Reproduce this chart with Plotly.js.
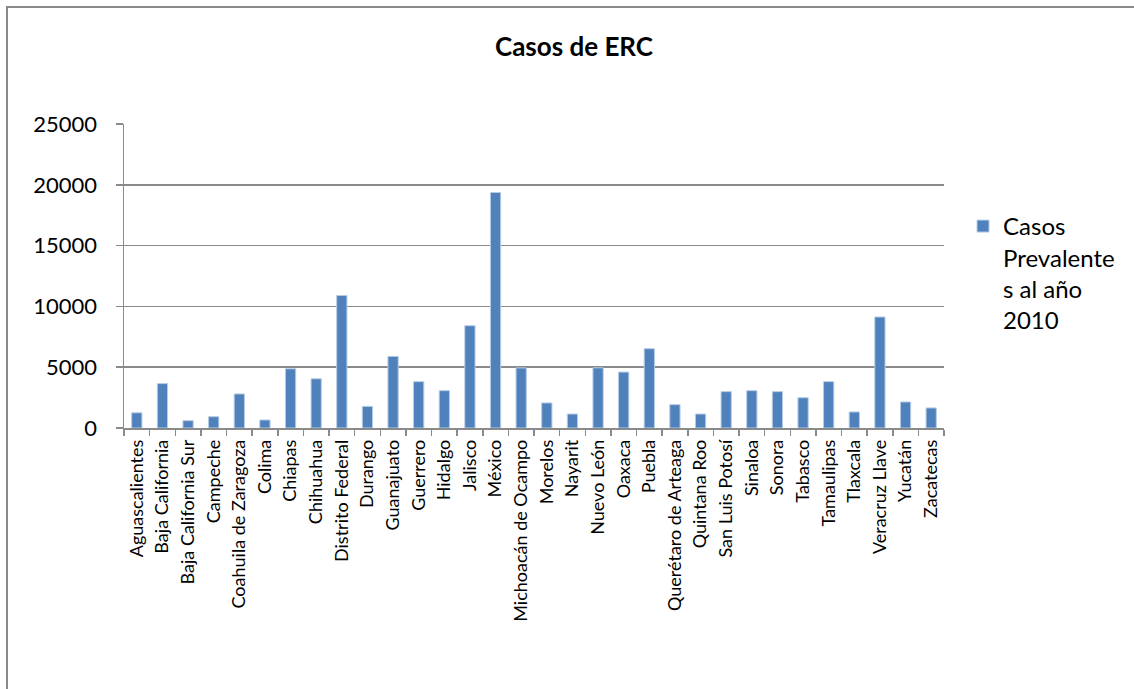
<!DOCTYPE html>
<html>
<head>
<meta charset="utf-8">
<script src="https://cdn.plot.ly/plotly-3.0.1.min.js"></script>
<style>
  html, body { margin: 0; padding: 0; overflow: hidden; background: #fff; }
  #chart { position: absolute; left: 0; top: 0; width: 1134px; height: 689px; }
  #frame { position: absolute; left: 6px; top: 6px; width: 1300px; height: 900px;
           border-top: 2px solid #8a8a8a; border-left: 2px solid #8a8a8a; pointer-events: none; }
</style>
</head>
<body>
<div id="chart"></div>
<div id="frame"></div>
<script>
const estados = [
  "Aguascalientes", "Baja California", "Baja California Sur", "Campeche",
  "Coahuila de Zaragoza", "Colima", "Chiapas", "Chihuahua", "Distrito Federal",
  "Durango", "Guanajuato", "Guerrero", "Hidalgo", "Jalisco", "México",
  "Michoacán de Ocampo", "Morelos", "Nayarit", "Nuevo León", "Oaxaca", "Puebla",
  "Querétaro de Arteaga", "Quintana Roo", "San Luis Potosí", "Sinaloa", "Sonora",
  "Tabasco", "Tamaulipas", "Tlaxcala", "Veracruz Llave", "Yucatán", "Zacatecas"
];
const casosPrevalentes2010 = [
  1250, 3650, 600, 930, 2800, 660, 4870, 4050, 10900,
  1780, 5890, 3810, 3070, 8410, 19370,
  4940, 2060, 1150, 4950, 4600, 6520,
  1920, 1150, 2990, 3070, 2990,
  2490, 3810, 1320, 9130, 2140, 1650
];
const serieNombre = "Casos<br>Prevalente<br>s al año<br>2010";
const tituloGrafico = "Casos de ERC";
const yTicks = [0, 5000, 10000, 15000, 20000, 25000];

const FONT = "Lato, 'Open Sans', sans-serif";

const trace = {
  type: "bar",
  x: estados,
  y: casosPrevalentes2010,
  name: serieNombre,
  marker: { color: "#4F81BD", line: { color: "#B8CCE4", width: 1 } },
  showlegend: true
};

const layout = {
  width: 1134, height: 689,
  margin: { l: 124, r: 190, t: 124, b: 261, pad: 0 },
  paper_bgcolor: "rgba(0,0,0,0)",
  plot_bgcolor: "rgba(0,0,0,0)",
  bargap: 0.6,
  font: { family: FONT, color: "#000" },
  title: {
    text: "<b>" + tituloGrafico + "</b>",
    font: { family: FONT, size: 26, color: "#000" },
    xref: "container", x: 574 / 1134, xanchor: "center",
    yref: "container", y: 1 - 47 / 689, yanchor: "middle"
  },
  xaxis: {
    type: "category",
    tickangle: -90,
    tickson: "boundaries",
    ticks: "outside", ticklen: 6, tickcolor: "#8a8a8a", tickwidth: 1.5,
    showline: true, linecolor: "#8a8a8a", linewidth: 1.5,
    showgrid: false,
    ticklabelstandoff: 3,
    tickfont: { family: FONT, size: 18, color: "#000" },
    fixedrange: true
  },
  yaxis: {
    range: [0, 25000],
    tickvals: yTicks,
    ticktext: yTicks.map(String),
    ticks: "outside", ticklen: 7, tickcolor: "#8a8a8a", tickwidth: 1.5,
    showline: true, linecolor: "#8a8a8a", linewidth: 1.5,
    showgrid: true, gridcolor: "#8a8a8a", gridwidth: 1.5,
    zeroline: false,
    ticklabelstandoff: 14,
    tickfont: { family: FONT, size: 22, color: "#000" },
    fixedrange: true
  },
  legend: {
    x: 1.0232, xanchor: "left",
    y: 0.737, yanchor: "top",
    valign: "top",
    font: { family: FONT, size: 24, color: "#000" },
    bgcolor: "rgba(0,0,0,0)",
    itemwidth: 30
  }
};

Plotly.newPlot("chart", [trace], layout, { displayModeBar: false, staticPlot: true });
</script>
</body>
</html>
